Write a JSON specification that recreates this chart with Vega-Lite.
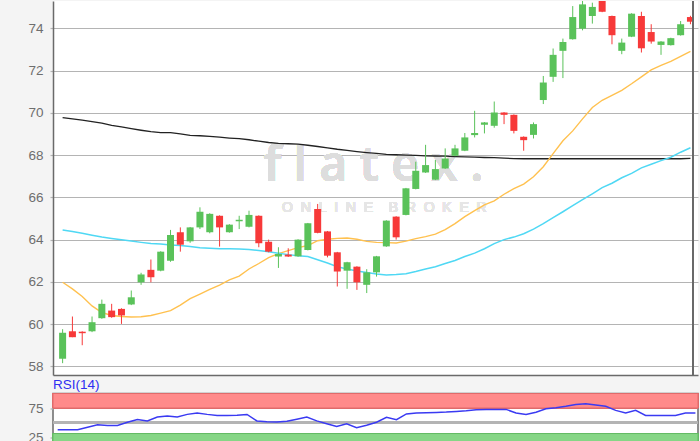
{
  "$schema": "https://vega.github.io/schema/vega-lite/v6.json",
  "background": "#f4f4f4",
  "padding": 0,
  "spacing": 0.5,
  "config": {
    "font": "Liberation Sans",
    "view": {"stroke": null, "fill": "#ffffff"}
  },
  "datasets": {
    "k": [
      {"i":1,"o":58.36,"h":59.76,"l":58.15,"c":59.59,"ma20":61.98,"ma50":64.46,"ma200":69.78,"rsi":37.6},
      {"i":2,"o":59.66,"h":60.36,"l":59.38,"c":59.38,"ma20":61.67,"ma50":64.38,"ma200":69.72,"rsi":37.6},
      {"i":3,"o":59.64,"h":59.66,"l":59.0,"c":59.57,"ma20":61.31,"ma50":64.30,"ma200":69.66,"rsi":37.6},
      {"i":4,"o":59.66,"h":60.36,"l":59.62,"c":60.09,"ma20":60.86,"ma50":64.21,"ma200":69.59,"rsi":41.9},
      {"i":5,"o":60.28,"h":61.16,"l":60.25,"c":60.96,"ma20":60.55,"ma50":64.12,"ma200":69.52,"rsi":46.2},
      {"i":6,"o":60.64,"h":60.96,"l":60.30,"c":60.33,"ma20":60.41,"ma50":64.05,"ma200":69.41,"rsi":45.0},
      {"i":7,"o":60.72,"h":60.75,"l":60.01,"c":60.41,"ma20":60.36,"ma50":63.99,"ma200":69.34,"rsi":45.0},
      {"i":8,"o":60.93,"h":61.59,"l":60.90,"c":61.27,"ma20":60.34,"ma50":63.93,"ma200":69.26,"rsi":50.5},
      {"i":9,"o":61.98,"h":62.43,"l":61.86,"c":62.35,"ma20":60.35,"ma50":63.87,"ma200":69.18,"rsi":55.3},
      {"i":10,"o":62.57,"h":63.06,"l":61.98,"c":62.22,"ma20":60.41,"ma50":63.82,"ma200":69.11,"rsi":52.6},
      {"i":11,"o":62.53,"h":63.45,"l":62.50,"c":63.43,"ma20":60.52,"ma50":63.79,"ma200":69.07,"rsi":59.5},
      {"i":12,"o":63.00,"h":64.46,"l":62.95,"c":64.22,"ma20":60.64,"ma50":63.75,"ma200":69.07,"rsi":61.2},
      {"i":13,"o":64.35,"h":64.58,"l":63.43,"c":63.76,"ma20":60.90,"ma50":63.72,"ma200":69.01,"rsi":59.5},
      {"i":14,"o":63.92,"h":64.60,"l":63.85,"c":64.58,"ma20":61.21,"ma50":63.67,"ma200":68.94,"rsi":64.0},
      {"i":15,"o":64.58,"h":65.53,"l":64.50,"c":65.32,"ma20":61.42,"ma50":63.62,"ma200":68.92,"rsi":66.4},
      {"i":16,"o":64.35,"h":65.25,"l":64.30,"c":65.22,"ma20":61.64,"ma50":63.59,"ma200":68.89,"rsi":64.0},
      {"i":17,"o":65.13,"h":65.15,"l":63.67,"c":64.58,"ma20":61.85,"ma50":63.57,"ma200":68.85,"rsi":62.2},
      {"i":18,"o":64.35,"h":64.73,"l":64.33,"c":64.71,"ma20":62.09,"ma50":63.57,"ma200":68.81,"rsi":62.2},
      {"i":19,"o":64.87,"h":65.13,"l":64.50,"c":64.94,"ma20":62.27,"ma50":63.56,"ma200":68.78,"rsi":62.6},
      {"i":20,"o":64.61,"h":65.37,"l":64.58,"c":65.17,"ma20":62.61,"ma50":63.53,"ma200":68.73,"rsi":63.8},
      {"i":21,"o":65.13,"h":65.15,"l":63.64,"c":63.83,"ma20":62.87,"ma50":63.48,"ma200":68.66,"rsi":52.6},
      {"i":22,"o":63.90,"h":64.00,"l":63.40,"c":63.43,"ma20":63.15,"ma50":63.43,"ma200":68.60,"rsi":51.4},
      {"i":23,"o":63.20,"h":63.64,"l":62.66,"c":63.32,"ma20":63.34,"ma50":63.36,"ma200":68.56,"rsi":51.0},
      {"i":24,"o":63.29,"h":63.59,"l":63.18,"c":63.20,"ma20":63.48,"ma50":63.29,"ma200":68.54,"rsi":52.2},
      {"i":25,"o":63.21,"h":64.02,"l":63.19,"c":64.00,"ma20":63.62,"ma50":63.24,"ma200":68.52,"rsi":55.7},
      {"i":26,"o":63.51,"h":64.79,"l":63.49,"c":64.77,"ma20":63.72,"ma50":63.20,"ma200":68.47,"rsi":59.5},
      {"i":27,"o":65.45,"h":65.69,"l":64.30,"c":64.32,"ma20":63.95,"ma50":63.05,"ma200":68.41,"rsi":52.8},
      {"i":28,"o":64.39,"h":64.41,"l":63.16,"c":63.24,"ma20":64.02,"ma50":62.89,"ma200":68.35,"rsi":47.9},
      {"i":29,"o":63.40,"h":63.42,"l":61.78,"c":62.49,"ma20":64.06,"ma50":62.72,"ma200":68.28,"rsi":43.3},
      {"i":30,"o":62.53,"h":62.95,"l":61.67,"c":62.93,"ma20":64.08,"ma50":62.61,"ma200":68.23,"rsi":47.9},
      {"i":31,"o":62.72,"h":62.74,"l":61.62,"c":61.98,"ma20":64.02,"ma50":62.51,"ma200":68.17,"rsi":41.0},
      {"i":32,"o":61.86,"h":62.60,"l":61.47,"c":62.45,"ma20":63.92,"ma50":62.44,"ma200":68.12,"rsi":45.3},
      {"i":33,"o":62.45,"h":63.23,"l":62.25,"c":63.21,"ma20":63.87,"ma50":62.37,"ma200":68.08,"rsi":50.5},
      {"i":34,"o":63.68,"h":64.92,"l":63.66,"c":64.90,"ma20":63.86,"ma50":62.33,"ma200":68.04,"rsi":59.1},
      {"i":35,"o":65.09,"h":65.11,"l":64.00,"c":64.11,"ma20":63.84,"ma50":62.35,"ma200":68.02,"rsi":54.8},
      {"i":36,"o":65.17,"h":66.45,"l":65.15,"c":66.43,"ma20":63.93,"ma50":62.39,"ma200":68.00,"rsi":64.8},
      {"i":37,"o":66.40,"h":67.69,"l":66.38,"c":67.26,"ma20":64.05,"ma50":62.49,"ma200":67.99,"rsi":66.4},
      {"i":38,"o":67.18,"h":68.49,"l":67.16,"c":67.53,"ma20":64.14,"ma50":62.61,"ma200":67.97,"rsi":66.9},
      {"i":39,"o":66.84,"h":67.77,"l":66.82,"c":67.34,"ma20":64.26,"ma50":62.72,"ma200":67.96,"rsi":67.4},
      {"i":40,"o":67.37,"h":68.32,"l":67.35,"c":67.84,"ma20":64.47,"ma50":62.87,"ma200":67.95,"rsi":67.9},
      {"i":41,"o":67.97,"h":68.49,"l":67.95,"c":68.32,"ma20":64.76,"ma50":63.01,"ma200":67.93,"rsi":69.1},
      {"i":42,"o":68.21,"h":69.05,"l":68.19,"c":68.84,"ma20":65.09,"ma50":63.20,"ma200":67.92,"rsi":70.3},
      {"i":43,"o":68.95,"h":70.10,"l":68.84,"c":69.05,"ma20":65.37,"ma50":63.36,"ma200":67.91,"rsi":72.1},
      {"i":44,"o":69.44,"h":69.57,"l":69.03,"c":69.55,"ma20":65.65,"ma50":63.57,"ma200":67.89,"rsi":72.6},
      {"i":45,"o":69.39,"h":70.54,"l":69.30,"c":70.02,"ma20":65.84,"ma50":63.81,"ma200":67.88,"rsi":72.6},
      {"i":46,"o":70.02,"h":70.04,"l":69.47,"c":69.91,"ma20":66.15,"ma50":64.00,"ma200":67.86,"rsi":72.6},
      {"i":47,"o":69.91,"h":69.93,"l":69.03,"c":69.15,"ma20":66.41,"ma50":64.12,"ma200":67.84,"rsi":66.4},
      {"i":48,"o":68.87,"h":68.89,"l":68.21,"c":68.71,"ma20":66.63,"ma50":64.28,"ma200":67.83,"rsi":64.0},
      {"i":49,"o":68.96,"h":69.55,"l":68.79,"c":69.47,"ma20":66.98,"ma50":64.50,"ma200":67.83,"rsi":67.8},
      {"i":50,"o":70.61,"h":71.75,"l":70.42,"c":71.44,"ma20":67.45,"ma50":64.76,"ma200":67.83,"rsi":73.8},
      {"i":51,"o":71.71,"h":73.05,"l":71.47,"c":72.75,"ma20":68.07,"ma50":65.04,"ma200":67.83,"rsi":75.5},
      {"i":52,"o":72.94,"h":73.52,"l":71.65,"c":73.36,"ma20":68.68,"ma50":65.32,"ma200":67.83,"rsi":78.1},
      {"i":53,"o":73.49,"h":75.06,"l":73.47,"c":74.54,"ma20":69.15,"ma50":65.61,"ma200":67.83,"rsi":81.2},
      {"i":54,"o":73.99,"h":75.50,"l":73.91,"c":75.14,"ma20":69.72,"ma50":65.89,"ma200":67.83,"rsi":82.4},
      {"i":55,"o":74.59,"h":75.22,"l":74.23,"c":75.02,"ma20":70.26,"ma50":66.17,"ma200":67.83,"rsi":80.2},
      {"i":56,"o":75.55,"h":75.80,"l":74.77,"c":74.79,"ma20":70.60,"ma50":66.46,"ma200":67.83,"rsi":78.1},
      {"i":57,"o":74.59,"h":74.61,"l":73.25,"c":73.68,"ma20":70.83,"ma50":66.67,"ma200":67.83,"rsi":70.9},
      {"i":58,"o":72.94,"h":73.52,"l":72.78,"c":73.33,"ma20":71.07,"ma50":66.93,"ma200":67.83,"rsi":66.4},
      {"i":59,"o":73.61,"h":74.72,"l":73.59,"c":74.70,"ma20":71.38,"ma50":67.14,"ma200":67.83,"rsi":70.9},
      {"i":60,"o":74.59,"h":74.79,"l":72.86,"c":73.06,"ma20":71.71,"ma50":67.40,"ma200":67.83,"rsi":62.2},
      {"i":61,"o":73.83,"h":74.20,"l":73.28,"c":73.38,"ma20":72.04,"ma50":67.57,"ma200":67.83,"rsi":62.2},
      {"i":62,"o":73.22,"h":73.40,"l":72.75,"c":73.38,"ma20":72.25,"ma50":67.74,"ma200":67.83,"rsi":62.2},
      {"i":63,"o":73.21,"h":73.56,"l":73.19,"c":73.54,"ma20":72.44,"ma50":67.90,"ma200":67.83,"rsi":62.2},
      {"i":64,"o":73.68,"h":74.35,"l":73.66,"c":74.20,"ma20":72.68,"ma50":68.14,"ma200":67.83,"rsi":66.4},
      {"i":65,"o":74.54,"h":74.60,"l":74.20,"c":74.32,"ma20":72.91,"ma50":68.35,"ma200":67.85,"rsi":66.4}
    ]
  },
  "vconcat": [
    {
      "width": 645,
      "height": 374,
      "data": {"name": "k"},
      "layer": [
        {
          "mark": {"type": "text", "fontSize": 48, "font": "Open Sans", "fontWeight": 600, "color": "#dddddd", "align": "center", "baseline": "alphabetic"},
          "encoding": {
            "x": {"datum": 32.7, "type": "quantitative", "axis": {"title": null}},
            "y": {"datum": 66.79, "type": "quantitative", "axis": {"title": null}},
            "text": {"value": "f\u00a0l\u00a0a\u00a0t\u00a0e\u00a0x\u00a0."}
          }
        },
        {
          "mark": {"type": "text", "fontSize": 14, "font": "Liberation Sans", "color": "#e6e6e6", "align": "center", "baseline": "alphabetic"},
          "encoding": {
            "x": {"datum": 33.8, "type": "quantitative", "axis": {"title": null}},
            "y": {"datum": 65.29, "type": "quantitative", "axis": {"title": null}},
            "text": {"value": "O\u00a0\u00a0N\u00a0\u00a0L\u00a0\u00a0I\u00a0\u00a0N\u00a0\u00a0E\u00a0\u00a0\u00a0\u00a0B\u00a0\u00a0R\u00a0\u00a0O\u00a0\u00a0K\u00a0\u00a0E\u00a0\u00a0R"}
          }
        },
        {
          "mark": {"type": "line", "color": "#222222", "strokeWidth": 1.3, "clip": true},
          "encoding": {
            "x": {"field": "i", "type": "quantitative",
                  "scale": {"domain": [0.53, 65.26], "nice": false, "zero": false},
                  "axis": {"title": null, "labels": false, "ticks": false, "grid": false, "domain": true, "domainColor": "#6a6a6a", "domainWidth": 1.5}},
            "y": {"field": "ma200", "type": "quantitative",
                  "scale": {"domain": [57.59, 75.3], "nice": false, "zero": false},
                  "axis": {"title": null, "values": [58, 60, 62, 64, 66, 68, 70, 72, 74], "grid": true, "gridColor": "#b4b4b4", "gridWidth": 1.2,
                           "tickSize": 3, "tickColor": "#b4b4b4", "tickWidth": 1.2, "labelPadding": 7, "labelFontSize": 13.5,
                           "labelColor": "#6e6e6e", "labelFont": "Liberation Sans", "domainColor": "#6a6a6a", "domainWidth": 1.5,
                           "minExtent": 52, "maxExtent": 52}}
          }
        },
        {
          "mark": {"type": "line", "color": "#ffc14f", "strokeWidth": 1.4, "clip": true},
          "encoding": {
            "x": {"field": "i", "type": "quantitative", "axis": {"title": null}},
            "y": {"field": "ma20", "type": "quantitative", "axis": {"title": null}}
          }
        },
        {
          "mark": {"type": "line", "color": "#4fd8f4", "strokeWidth": 1.5, "clip": true},
          "encoding": {
            "x": {"field": "i", "type": "quantitative", "axis": {"title": null}},
            "y": {"field": "ma50", "type": "quantitative", "axis": {"title": null}}
          }
        },
        {
          "mark": {"type": "rule", "strokeWidth": 1, "clip": true},
          "encoding": {
            "x": {"field": "i", "type": "quantitative", "axis": {"title": null}},
            "y": {"field": "l", "type": "quantitative", "axis": {"title": null}},
            "y2": {"field": "h"},
            "color": {"condition": {"test": "datum.c >= datum.o", "value": "#5ac25a"}, "value": "#f73939"}
          }
        },
        {
          "mark": {"type": "bar", "width": 7, "clip": true},
          "encoding": {
            "x": {"field": "i", "type": "quantitative", "axis": {"title": null}},
            "y": {"field": "o", "type": "quantitative", "axis": {"title": null}},
            "y2": {"field": "c"},
            "color": {"condition": {"test": "datum.c >= datum.o", "value": "#5ac25a"}, "value": "#f73939"}
          }
        },
        {
          "mark": {"type": "rule", "color": "#6a6a6a", "strokeWidth": 1.5},
          "encoding": {
            "x": {"datum": 65.26, "type": "quantitative", "axis": {"title": null}}
          }
        }
      ]
    },
    {
      "width": 645,
      "height": 58,
      "data": {"name": "k"},
      "view": {"stroke": "#6a6a6a", "strokeWidth": 1.5, "fill": "#ffffff"},
      "title": {"text": "RSI(14)", "anchor": "start", "frame": "group", "fontSize": 13.5, "fontWeight": "normal", "color": "#2f2ff2", "offset": 2, "font": "Liberation Sans"},
      "layer": [
        {
          "mark": {"type": "rect", "fill": "#ff8a8a", "stroke": "#e06a6a", "strokeWidth": 1},
          "encoding": {
            "y": {"datum": 75, "type": "quantitative",
                  "scale": {"domain": [0, 100], "nice": false, "zero": false},
                  "axis": {"title": null, "values": [25, 75], "grid": false, "domain": false, "tickSize": 3, "tickColor": "#b4b4b4", "tickWidth": 1.2,
                           "labelPadding": 7, "labelFontSize": 13.5, "labelColor": "#6e6e6e", "labelFont": "Liberation Sans",
                           "minExtent": 52, "maxExtent": 52}},
            "y2": {"datum": 100}
          }
        },
        {
          "mark": {"type": "rect", "fill": "#86d686", "stroke": "#64bb64", "strokeWidth": 1},
          "encoding": {
            "y": {"datum": 0, "type": "quantitative", "axis": {"title": null}},
            "y2": {"datum": 31}
          }
        },
        {
          "mark": {"type": "rule", "color": "#b4b4b4", "strokeWidth": 1.5},
          "encoding": {
            "y": {"datum": 50, "type": "quantitative", "axis": {"title": null}}
          }
        },
        {
          "mark": {"type": "line", "color": "#3a3af2", "strokeWidth": 1.5},
          "encoding": {
            "x": {"field": "i", "type": "quantitative", "scale": {"domain": [0.53, 65.26], "nice": false, "zero": false}, "axis": null},
            "y": {"field": "rsi", "type": "quantitative", "axis": {"title": null}}
          }
        }
      ]
    }
  ]
}
